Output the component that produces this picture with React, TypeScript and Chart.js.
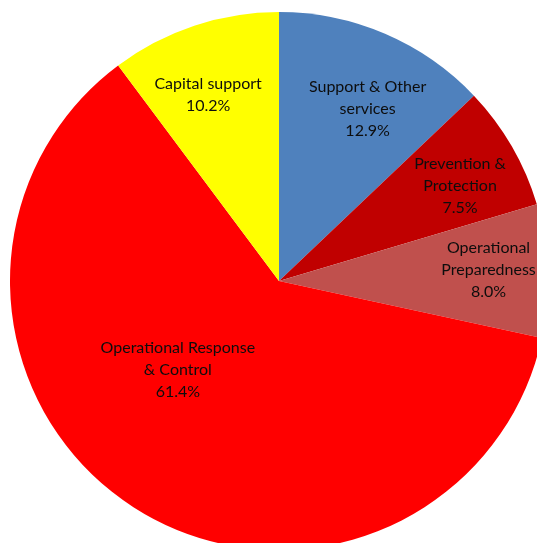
import React, { useEffect, useRef } from "react";
import { Chart, registerables } from "chart.js";

Chart.register(...registerables);

const categories = [
  "Support & Other services",
  "Prevention & Protection",
  "Operational Preparedness",
  "Operational Response & Control",
  "Capital support",
];
const labelLines = [
  ["Support & Other", "services"],
  ["Prevention &", "Protection"],
  ["Operational", "Preparedness"],
  ["Operational Response", "& Control"],
  ["Capital support"],
];
const values = [12.9, 7.5, 8.0, 61.4, 10.2];
const colors = ["#4F81BD", "#C00000", "#C0504D", "#FF0000", "#FFFF00"];
// label placement (fraction of radius, angular shift in degrees)
const labelRatio = [0.72, 0.76, 0.78, 0.5, 0.74];
const labelShift = [4, 2.4, -0.8, 16, -2.5];

const labelPlugin = {
  id: "sliceLabels",
  afterDatasetsDraw(chart: any) {
    const ctx = chart.ctx;
    const meta = chart.getDatasetMeta(0);
    ctx.save();
    ctx.font = "16px Lato, 'Open Sans', sans-serif";
    ctx.fillStyle = "#0d0d0d";
    ctx.textAlign = "center";
    ctx.textBaseline = "middle";
    const lh = 22;
    meta.data.forEach((arc: any, i: number) => {
      const { x, y, startAngle, endAngle, outerRadius } = arc.getProps(
        ["x", "y", "startAngle", "endAngle", "outerRadius"],
        true
      );
      const mid = (startAngle + endAngle) / 2 + (labelShift[i] * Math.PI) / 180;
      const r = outerRadius * labelRatio[i];
      const cx = x + Math.cos(mid) * r;
      const cy = y + Math.sin(mid) * r;
      const lines = [...labelLines[i], values[i].toFixed(1) + "%"];
      const top = cy - ((lines.length - 1) * lh) / 2;
      lines.forEach((t, k) => ctx.fillText(t, cx, top + k * lh));
    });
    ctx.restore();
  },
};

export default function App() {
  const ref = useRef<HTMLCanvasElement>(null);
  useEffect(() => {
    const chart = new Chart(ref.current!, {
      type: "pie",
      data: {
        labels: categories,
        datasets: [
          {
            data: values,
            backgroundColor: colors,
            borderWidth: 0,
          },
        ],
      },
      options: {
        animation: false,
        responsive: false,
        layout: { padding: 0 },
        plugins: {
          legend: { display: false },
          tooltip: { enabled: false },
        },
      },
      plugins: [labelPlugin],
    });
    return () => chart.destroy();
  }, []);
  return (
    <div
      style={{
        position: "fixed",
        left: 0,
        top: 0,
        width: 537,
        height: 543,
        overflow: "hidden",
        background: "#fff",
      }}
    >
      <canvas
        ref={ref}
        width={538}
        height={538}
        style={{ position: "absolute", left: 10, top: 12, width: 538, height: 538 }}
      />
    </div>
  );
}
